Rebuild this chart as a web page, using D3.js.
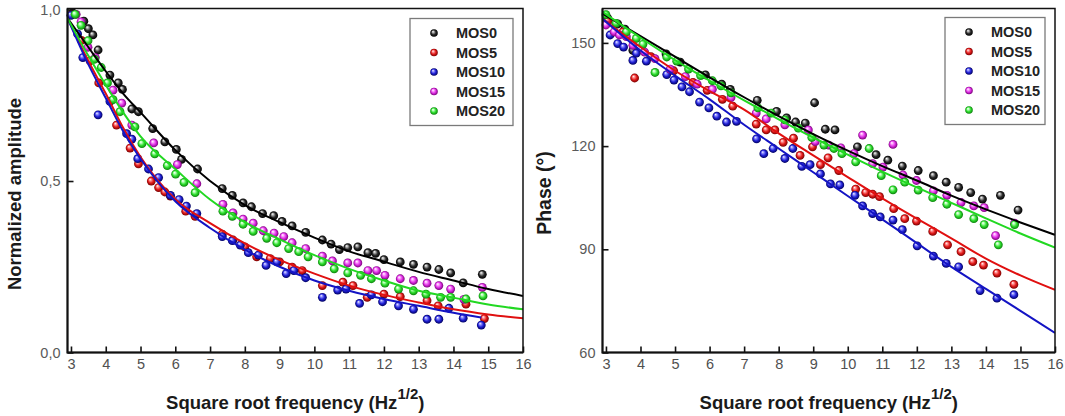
<!DOCTYPE html>
<html>
<head>
<meta charset="utf-8">
<script src="https://cdn.jsdelivr.net/npm/d3@7"></script>
<style>
  body { margin: 0; background: #fff; }
  svg { display: block; font-family: "Liberation Sans", Arial, sans-serif; }
</style>
</head>
<body>
<svg id="chart" width="1065" height="416"></svg>
<script>
// ---- data ----
const seriesNames = ['MOS0', 'MOS5', 'MOS10', 'MOS15', 'MOS20'];
const sqrtFreqTicks = [3, 4, 5, 6, 7, 8, 9, 10, 11, 12, 13, 14, 15, 16];
const ampTicks = [0, 0.5, 1.0];
const ampTickLabels = ['0,0', '0,5', '1,0'];
const phaseTicks = [60, 90, 120, 150];

// normalized amplitude, [sqrt(f), value]
const ampMOS0 = [[3.05,0.99],[3.37,0.966],[3.50,0.944],[3.63,0.926],[3.78,0.882],[4.12,0.809],[4.36,0.786],[4.48,0.767],[4.75,0.710],[4.94,0.702],[5.35,0.653],[5.70,0.614],[6.03,0.592],[6.18,0.563],[6.64,0.535],[7.35,0.478],[7.64,0.458],[7.95,0.436],[8.19,0.425],[8.51,0.405],[8.83,0.399],[9.07,0.382],[9.36,0.369],[9.75,0.350],[10.23,0.328],[10.48,0.316],[10.72,0.300],[10.96,0.306],[11.25,0.308],[11.54,0.291],[11.76,0.289],[12.0,0.271],[12.47,0.264],[12.85,0.257],[13.24,0.249],[13.58,0.242],[13.92,0.232],[14.28,0.203],[14.83,0.228]];
const ampMOS5 = [[3.02,0.985],[3.3,0.91],[3.55,0.85],[3.80,0.786],[4.31,0.663],[4.70,0.596],[4.94,0.550],[5.31,0.500],[5.52,0.481],[5.70,0.468],[5.86,0.456],[6.30,0.412],[6.57,0.397],[7.35,0.345],[7.66,0.328],[8.0,0.308],[8.34,0.279],[8.73,0.274],[9.0,0.264],[9.36,0.249],[9.65,0.239],[10.23,0.195],[10.82,0.205],[11.11,0.195],[11.52,0.161],[12.0,0.170],[12.47,0.163],[13.24,0.151],[13.56,0.136],[14.36,0.141],[14.89,0.099]];
const ampMOS10 = [[3.0,0.983],[3.19,0.929],[3.34,0.860],[3.78,0.693],[4.12,0.732],[4.60,0.638],[4.75,0.622],[4.92,0.565],[5.23,0.535],[5.52,0.510],[5.86,0.458],[6.11,0.446],[6.32,0.427],[6.62,0.405],[7.35,0.338],[7.64,0.326],[7.87,0.313],[8.10,0.291],[8.39,0.284],[8.61,0.254],[8.92,0.264],[9.19,0.230],[9.41,0.239],[9.75,0.218],[10.23,0.161],[10.67,0.182],[10.91,0.185],[11.30,0.143],[11.64,0.168],[11.96,0.148],[12.42,0.136],[12.85,0.126],[13.24,0.097],[13.58,0.097],[13.87,0.129],[14.28,0.100],[14.80,0.080]];
const ampMOS15 = [[3.15,0.986],[3.29,0.964],[3.49,0.89],[3.7,0.86],[4.21,0.765],[4.46,0.727],[4.75,0.663],[5.38,0.611],[6.06,0.548],[6.62,0.492],[7.37,0.432],[7.66,0.407],[7.95,0.389],[8.24,0.377],[8.53,0.355],[8.84,0.348],[9.12,0.338],[9.36,0.320],[9.75,0.303],[10.23,0.281],[10.52,0.267],[10.96,0.261],[11.25,0.261],[11.54,0.239],[11.79,0.239],[12.03,0.225],[12.47,0.215],[12.85,0.210],[13.24,0.202],[13.58,0.195],[13.92,0.185],[14.3,0.155],[14.83,0.19]];
const ampMOS20 = [[3.12,0.986],[3.29,0.954],[3.49,0.909],[3.68,0.855],[3.87,0.831],[4.05,0.786],[4.21,0.737],[4.41,0.702],[4.84,0.658],[5.04,0.609],[5.41,0.579],[5.77,0.545],[6.01,0.520],[6.25,0.496],[6.57,0.466],[7.37,0.412],[7.64,0.397],[7.95,0.374],[8.24,0.353],[8.63,0.333],[8.92,0.320],[9.26,0.303],[9.55,0.294],[9.82,0.279],[10.23,0.264],[10.57,0.244],[10.96,0.232],[11.33,0.225],[11.64,0.215],[12.03,0.202],[12.42,0.185],[12.85,0.180],[13.21,0.170],[13.63,0.161],[13.92,0.161],[14.36,0.156],[14.85,0.165]];

// fitted amplitude curves (read at these abscissae)
const ampFitX = [2.9, 3.5, 4, 4.5, 5, 6, 7, 8, 9, 10, 11, 12, 13, 14, 15, 16];
const ampFitMOS0 = [0.975, 0.89, 0.82, 0.755, 0.70, 0.59, 0.50, 0.43, 0.38, 0.335, 0.295, 0.265, 0.235, 0.21, 0.185, 0.165];
const ampFitMOS5 = [0.975, 0.85, 0.755, 0.655, 0.57, 0.447, 0.377, 0.318, 0.27, 0.23, 0.195, 0.168, 0.146, 0.126, 0.111, 0.10];
const ampFitX10 = [2.9, 3.5, 4, 4.5, 5, 6, 7, 8, 9, 10, 11, 12, 13, 14, 14.8];
const ampFitMOS10 = [0.975, 0.84, 0.742, 0.645, 0.565, 0.441, 0.363, 0.30, 0.25, 0.21, 0.18, 0.156, 0.136, 0.116, 0.102];
const ampFitMOS20 = [0.975, 0.865, 0.78, 0.70, 0.63, 0.535, 0.446, 0.38, 0.33, 0.284, 0.244, 0.21, 0.18, 0.16, 0.14, 0.126];

// phase (deg), [sqrt(f), value]
const phMOS0 = [[3.05,157.2],[3.34,155.5],[3.55,154],[3.78,147.8],[4.74,146.8],[5.15,144.4],[5.88,140.7],[6.35,138.0],[6.60,136.5],[7.38,133.3],[7.94,130.1],[8.23,128.2],[8.49,127.0],[8.77,126.7],[9.04,132.6],[9.35,124.9],[9.63,124.7],[10.28,119.8],[10.82,117.5],[11.16,115.9],[11.58,114.2],[12.04,112.9],[12.48,111.4],[12.85,109.5],[13.21,108.0],[13.56,106.5],[13.90,104.6],[14.42,105.7],[14.93,101.4]];
const phMOS5 = [[3.05,156.2],[3.49,153.2],[3.83,139.8],[4.3,146],[4.96,141.9],[5.52,138.5],[5.93,136.2],[6.37,133.6],[6.67,131.6],[7.35,126.4],[7.64,124.7],[7.89,124.7],[8.13,121.1],[8.43,122.3],[8.62,117.3],[8.98,119.8],[9.21,114.6],[9.43,116.6],[9.74,112.9],[10.23,107.5],[10.52,106.5],[10.72,106.0],[10.92,105.3],[11.33,101.8],[11.65,98.9],[11.99,98.2],[12.46,95.2],[12.89,91.3],[13.28,89.3],[13.62,86.4],[13.93,85.4],[14.32,83.1],[14.81,79.8]];
const phMOS10 = [[3.12,152.3],[3.34,149.8],[3.51,148.8],[3.78,144.9],[3.88,147.0],[4.17,144.7],[4.76,140.8],[4.97,139.2],[5.20,137.2],[5.42,135.8],[5.71,132.8],[5.98,131.1],[6.21,128.7],[6.49,127.0],[6.78,127.2],[7.36,122.1],[7.57,117.8],[7.84,119.3],[8.18,116.4],[8.41,119.3],[8.67,114.1],[8.91,114.6],[9.21,111.9],[9.50,109.0],[9.77,108.7],[10.21,105.7],[10.43,102.6],[10.72,100.4],[10.94,99.4],[11.31,98.5],[11.58,95.7],[12.01,91.0],[12.48,88.0],[12.85,85.9],[13.21,84.9],[13.83,78.0],[14.32,75.8],[14.81,76.8]];
const phMOS15 = [[3.0,155.2],[3.24,153.2],[3.39,152.3],[3.59,151.8],[3.78,149.3],[4.12,147.3],[4.42,145.4],[4.86,142.4],[5.30,140.2],[5.64,138.0],[6.08,136.5],[6.62,134.1],[7.35,129.6],[7.64,127.9],[8.18,126.2],[8.86,124.7],[9.06,121.3],[9.45,120.3],[9.80,119.5],[10.18,117.8],[10.43,123.2],[10.72,114.9],[11.02,113.9],[11.31,120.5],[11.60,111.6],[11.99,110.0],[12.48,107.0],[12.87,105.7],[13.28,103.6],[13.65,102.6],[13.95,102.1],[14.28,94.0],[14.83,97.6]];
const phMOS20 = [[3.0,158.2],[3.29,155.7],[3.59,153.2],[3.88,151.3],[4.07,149.6],[4.42,141.4],[4.76,145.9],[5.05,144.7],[5.39,142.4],[5.74,140.5],[6.08,139.0],[6.33,137.5],[6.62,135.5],[7.40,131.1],[7.78,129.6],[8.18,127.6],[8.57,125.2],[8.96,122.5],[9.31,120.3],[9.60,119.3],[9.83,117.8],[10.23,115.4],[10.62,119.3],[10.97,111.4],[11.31,107.3],[11.65,109.5],[12.04,107.2],[12.46,105.0],[12.87,103.1],[13.21,100.1],[13.65,98.9],[13.95,97.2],[14.36,91.3],[14.83,97.2]];

// fitted phase lines
const phFitX = [2.9, 4, 5, 6, 7, 8, 9, 10, 11, 12, 13, 14, 15, 16];
const phFitMOS0 = [158.5, 152, 146, 140, 134.2, 128.7, 123.5, 118.7, 114.2, 110, 105.6, 101.6, 97.8, 94.2];
const phFitMOS5 = [157, 148.8, 141.9, 136, 130.6, 123.7, 117.3, 111, 104.8, 98.9, 93.2, 87.3, 82.4, 78.2];
const phFitMOS10 = [157, 147.8, 140.5, 133.6, 126.2, 119.3, 112.4, 105.5, 98.7, 91.8, 84.9, 78.5, 72.1, 65.7];
const phFitMOS20 = [159, 151.5, 145, 139, 133.3, 127.8, 122.5, 117.5, 112.6, 108, 103.5, 99, 94.6, 90.5];

// ---- styling ----
const palette = {
  MOS0:  { light: '#b8b8b8', base: '#2a2a2a', dark: '#000000', line: '#000000' },
  MOS5:  { light: '#ffa0a0', base: '#e41c1c', dark: '#7a0000', line: '#e01010' },
  MOS10: { light: '#9a9aff', base: '#2222d8', dark: '#000060', line: '#1414c4' },
  MOS15: { light: '#ffb0ff', base: '#e030e6', dark: '#7a007a', line: '#e030e6' },
  MOS20: { light: '#c0ffc0', base: '#30e030', dark: '#0a800a', line: '#22d822' }
};

const svg = d3.select('#chart');
const defs = svg.append('defs');
seriesNames.forEach(name => {
  const c = palette[name];
  const grad = defs.append('radialGradient')
    .attr('id', 'ball-' + name)
    .attr('cx', '50%').attr('cy', '50%').attr('r', '50%')
    .attr('fx', '35%').attr('fy', '30%');
  grad.append('stop').attr('offset', '0%').attr('stop-color', '#ffffff');
  grad.append('stop').attr('offset', '22%').attr('stop-color', c.light);
  grad.append('stop').attr('offset', '60%').attr('stop-color', c.base);
  grad.append('stop').attr('offset', '100%').attr('stop-color', c.dark);
});

function drawPanel(p) {
  const x = d3.scaleLinear().domain([2.9, 16]).range([p.left, p.right]);
  const y = d3.scaleLinear().domain(p.yDomain).range([p.bottom, p.top]);
  const g = svg.append('g');

  const clipId = 'clip-' + p.id;
  defs.append('clipPath').attr('id', clipId)
    .append('rect')
    .attr('x', p.left).attr('y', p.top)
    .attr('width', p.right - p.left).attr('height', p.bottom - p.top);

  // scatter points
  const pts = g.append('g');
  seriesNames.forEach(name => {
    pts.append('g').selectAll('circle')
      .data(p.points[name])
      .join('circle')
      .attr('cx', d => x(d[0]))
      .attr('cy', d => y(d[1]))
      .attr('r', 4.4)
      .attr('fill', `url(#ball-${name})`);
  });

  // fitted curves
  const line = d3.line()
    .x(d => x(d[0]))
    .y(d => y(d[1]))
    .curve(d3.curveMonotoneX);
  const fits = g.append('g').attr('clip-path', `url(#${clipId})`);
  p.fits.forEach(f => {
    fits.append('path')
      .attr('d', line(d3.zip(f.x, f.y)))
      .attr('fill', 'none')
      .attr('stroke', palette[f.name].line)
      .attr('stroke-width', 2);
  });

  // axes, ticks pointing inward
  const xAxis = d3.axisBottom(x).tickValues(sqrtFreqTicks).tickSizeInner(-6).tickSizeOuter(0).tickPadding(6);
  g.append('g')
    .attr('transform', `translate(0,${p.bottom})`)
    .call(xAxis)
    .call(s => s.select('.domain').remove())
    .call(s => s.selectAll('line').attr('stroke', '#111').attr('stroke-width', 1.6))
    .call(s => s.selectAll('text').attr('font-size', 14.5).attr('fill', '#505050').attr('font-family', null));

  const yAxis = d3.axisLeft(y).tickValues(p.yTicks).tickFormat((d, i) => p.yTickLabels[i])
    .tickSizeInner(-6).tickSizeOuter(0).tickPadding(7);
  g.append('g')
    .attr('transform', `translate(${p.left},0)`)
    .call(yAxis)
    .call(s => s.select('.domain').remove())
    .call(s => s.selectAll('line').attr('stroke', '#111').attr('stroke-width', 1.6))
    .call(s => s.selectAll('text').attr('font-size', 14.5).attr('fill', '#5a5a5a').attr('font-family', null));

  // frame
  g.append('rect')
    .attr('x', p.left).attr('y', p.top)
    .attr('width', p.right - p.left).attr('height', p.bottom - p.top)
    .attr('fill', 'none').attr('stroke', '#111').attr('stroke-width', 1.5);
  g.append('path')
    .attr('d', `M${p.left},${p.top}V${p.bottom}H${p.right}`)
    .attr('fill', 'none').attr('stroke', '#111').attr('stroke-width', 2);

  // axis titles
  const xt = g.append('text')
    .attr('x', (p.left + p.right) / 2).attr('y', 409)
    .attr('text-anchor', 'middle')
    .attr('font-size', 18.5).attr('font-weight', 'bold').attr('fill', '#1a1a1a');
  xt.append('tspan').text('Square root frequency (Hz');
  xt.append('tspan').attr('dy', -10).attr('font-size', 15).text('1/2');
  xt.append('tspan').attr('dy', 10).text(')');

  g.append('text')
    .attr('transform', `translate(${p.yTitleX},${p.yTitleY}) rotate(-90)`)
    .attr('text-anchor', 'middle')
    .attr('font-size', p.yTitleSize).attr('font-weight', 'bold').attr('fill', '#1a1a1a')
    .text(p.yTitle);

  // legend
  const lg = g.append('g').attr('transform', `translate(${p.legend.x},${p.legend.y})`);
  lg.append('rect')
    .attr('width', p.legend.w).attr('height', 107)
    .attr('fill', '#fff').attr('stroke', '#7a7a7a').attr('stroke-width', 1.3);
  seriesNames.forEach((name, i) => {
    const row = lg.append('g').attr('transform', `translate(0,${14.5 + i * 19.5})`);
    row.append('circle').attr('cx', 24).attr('cy', 0).attr('r', 3.8)
      .attr('fill', `url(#ball-${name})`);
    row.append('text').attr('x', 46).attr('y', 0).attr('dy', '0.36em')
      .attr('font-size', 14.5).attr('font-weight', 'bold').attr('fill', '#222')
      .text(name);
  });
}

drawPanel({
  id: 'amp',
  left: 67.5, right: 523, top: 8.5, bottom: 352.5,
  yDomain: [0, 1.003],
  yTicks: ampTicks, yTickLabels: ampTickLabels,
  yTitle: 'Normalized amplitude', yTitleX: 21, yTitleY: 194, yTitleSize: 18.5,
  points: { MOS0: ampMOS0, MOS5: ampMOS5, MOS10: ampMOS10, MOS15: ampMOS15, MOS20: ampMOS20 },
  fits: [
    { name: 'MOS0', x: ampFitX, y: ampFitMOS0 },
    { name: 'MOS5', x: ampFitX, y: ampFitMOS5 },
    { name: 'MOS10', x: ampFitX10, y: ampFitMOS10 },
    { name: 'MOS20', x: ampFitX, y: ampFitMOS20 }
  ],
  legend: { x: 410, y: 18.5, w: 103 }
});

drawPanel({
  id: 'phase',
  left: 602.5, right: 1055, top: 8.5, bottom: 352.5,
  yDomain: [60, 160],
  yTicks: phaseTicks, yTickLabels: phaseTicks.map(String),
  yTitle: 'Phase (°)', yTitleX: 551, yTitleY: 193, yTitleSize: 19.5,
  points: { MOS0: phMOS0, MOS5: phMOS5, MOS10: phMOS10, MOS15: phMOS15, MOS20: phMOS20 },
  fits: [
    { name: 'MOS0', x: phFitX, y: phFitMOS0 },
    { name: 'MOS5', x: phFitX, y: phFitMOS5 },
    { name: 'MOS10', x: phFitX, y: phFitMOS10 },
    { name: 'MOS20', x: phFitX, y: phFitMOS20 }
  ],
  legend: { x: 945, y: 17.5, w: 100 }
});
</script>
</body>
</html>
